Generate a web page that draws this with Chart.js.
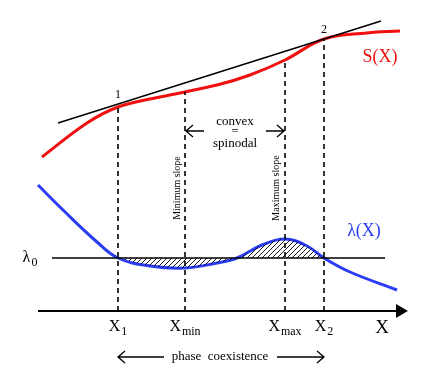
<!DOCTYPE html>
<html>
<head>
<meta charset="utf-8">
<script src="https://cdn.jsdelivr.net/npm/chart.js@4.4.0/dist/chart.umd.min.js"></script>
<style>
  html, body { margin: 0; padding: 0; background: #fff; }
  #wrap { width: 436px; height: 383px; position: relative; }
</style>
</head>
<body>
<div id="wrap"><canvas id="phaseChart"></canvas></div>
<script>
// schematic units: x across, y up
const sCurveX = [42, 87, 118, 160, 217, 250, 285, 324, 367, 400];
const sCurveY = [226, 260, 276, 286, 298, 308, 323, 344, 350, 352];

const lambdaX = [38, 63, 97, 118, 150, 185, 217, 237, 262, 285, 307, 324, 350, 397];
const lambdaY = [198, 173, 141, 125, 117, 115, 120, 125, 138, 144, 137, 125, 111, 93];

const lambda0 = 125;
const axisY = 72;
const tangentX = [58, 381];
const tangentY = [260, 362];

const markNames = ["X1", "Xmin", "Xmax", "X2"];
const markX = [118, 185, 285, 324];
const markTop = [276, 291, 323, 344];

const pts = (xs, ys) => xs.map((x, i) => ({ x: x, y: ys[i] }));

// hatch pattern for the area between lambda(X) and lambda0
function hatch() {
  const c = document.createElement("canvas");
  c.width = 5; c.height = 5;
  const g = c.getContext("2d");
  g.strokeStyle = "#000";
  g.lineWidth = 0.9;
  g.beginPath();
  g.moveTo(0, 5); g.lineTo(5, 0);
  g.moveTo(-2.5, 2.5); g.lineTo(2.5, -2.5);
  g.moveTo(2.5, 7.5); g.lineTo(7.5, 2.5);
  g.stroke();
  return g.createPattern(c, "repeat");
}

const hatchIdx = lambdaX.map((x, i) => i).filter(i => lambdaX[i] >= markX[0] && lambdaX[i] <= markX[3]);

const datasets = [
  {
    data: hatchIdx.map(i => ({ x: lambdaX[i], y: lambdaY[i] })),
    borderWidth: 0, pointRadius: 0, tension: 0.4,
    fill: { value: lambda0 }, backgroundColor: hatch(),
  },
  {
    data: [{ x: 52, y: lambda0 }, { x: 385, y: lambda0 }],
    borderColor: "#000", borderWidth: 1.5, pointRadius: 0,
  },
  {
    data: pts(tangentX, tangentY),
    borderColor: "#000", borderWidth: 1.5, pointRadius: 0,
  },
];

markX.forEach((x, i) => {
  datasets.push({
    data: [{ x: x, y: axisY }, { x: x, y: markTop[i] }],
    borderColor: "#000", borderWidth: 1.6, borderDash: [5, 4], pointRadius: 0,
  });
});

datasets.push(
  {
    data: pts(lambdaX, lambdaY),
    borderColor: "#2a3df5", borderWidth: 3, pointRadius: 0, tension: 0.4,
  },
  {
    data: pts(sCurveX, sCurveY),
    borderColor: "#f01010", borderWidth: 3, pointRadius: 0, tension: 0.4,
  },
  {
    data: [{ x: 38, y: axisY }, { x: 400, y: axisY }],
    borderColor: "#000", borderWidth: 2,
    pointRadius: [0, 6], pointStyle: "triangle", rotation: 90,
    pointBackgroundColor: "#000", pointBorderColor: "#000",
  }
);

const serif = "'Liberation Serif', 'DejaVu Serif', serif";

const texts = [
  { t: "1", x: 118, y: 288, size: 12 },
  { t: "2", x: 324, y: 353, size: 12 },
  { t: "S(X)", x: 380, y: 326, size: 18, color: "#f01010" },
  { t: "λ(X)", x: 364, y: 152, size: 18, color: "#2a3df5" },
  { t: "X", x: 382, y: 55, size: 19 },
  { t: "convex", x: 235, y: 261, size: 13 },
  { t: "=", x: 235, y: 251, size: 13 },
  { t: "spinodal", x: 235, y: 239, size: 13 },
  { t: "phase  coexistence", x: 220, y: 26, size: 13 },
];

const subLabels = [
  { base: "λ", sub: "0", x: 30, y: 125 },
  { base: "X", sub: "1", x: markX[0], y: 56 },
  { base: "X", sub: "min", x: markX[1], y: 56 },
  { base: "X", sub: "max", x: markX[2], y: 56 },
  { base: "X", sub: "2", x: markX[3], y: 56 },
];

const rotated = [
  { t: "Minimum slope", x: 177, y: 195 },
  { t: "Maximum slope", x: 276, y: 195 },
];

const arrows = [
  { from: markX[1] + 1, to: markX[2] - 1, y: 252, gap: [204, 266] },
  { from: markX[0], to: markX[3], y: 26, gap: [164, 277] },
];

const annotate = {
  id: "annotate",
  afterDraw(chart) {
    const c = chart.ctx, sx = chart.scales.x, sy = chart.scales.y;
    const px = v => sx.getPixelForValue(v), py = v => sy.getPixelForValue(v);
    c.save();
    c.textAlign = "center";
    c.textBaseline = "middle";
    texts.forEach(o => {
      c.fillStyle = o.color || "#000";
      c.font = o.size + "px " + serif;
      c.fillText(o.t, px(o.x), py(o.y));
    });
    subLabels.forEach(o => {
      c.fillStyle = "#000";
      c.font = "16px " + serif;
      const bw = c.measureText(o.base).width;
      c.font = "12px " + serif;
      const sw = c.measureText(o.sub).width;
      const left = px(o.x) - (bw + sw + 1) / 2;
      c.textAlign = "left";
      c.font = "16px " + serif;
      c.fillText(o.base, left, py(o.y));
      c.font = "12px " + serif;
      c.fillText(o.sub, left + bw + 1, py(o.y) + 5);
      c.textAlign = "center";
    });
    rotated.forEach(o => {
      c.save();
      c.translate(px(o.x), py(o.y));
      c.rotate(-Math.PI / 2);
      c.font = "10px " + serif;
      c.fillStyle = "#000";
      c.fillText(o.t, 0, 0);
      c.restore();
    });
    c.strokeStyle = "#000";
    c.lineWidth = 1.3;
    arrows.forEach(a => {
      const y = py(a.y), x1 = px(a.from), x2 = px(a.to);
      c.beginPath();
      c.moveTo(x1, y); c.lineTo(px(a.gap[0]), y);
      c.moveTo(px(a.gap[1]), y); c.lineTo(x2, y);
      c.moveTo(x1 + 7, y - 6); c.lineTo(x1, y); c.lineTo(x1 + 7, y + 6);
      c.moveTo(x2 - 7, y - 6); c.lineTo(x2, y); c.lineTo(x2 - 7, y + 6);
      c.stroke();
    });
    c.restore();
  },
};

const ctx = document.getElementById("phaseChart").getContext("2d");
new Chart(ctx, {
  type: "line",
  data: { datasets: datasets },
  options: {
    responsive: true,
    maintainAspectRatio: false,
    animation: false,
    layout: { padding: 0, autoPadding: false },
    plugins: { legend: { display: false }, tooltip: { enabled: false } },
    elements: { line: { fill: false } },
    scales: {
      x: { type: "linear", min: 0, max: 436, display: false },
      y: { type: "linear", min: 0, max: 383, display: false },
    },
  },
  plugins: [annotate],
});
</script>
</body>
</html>
